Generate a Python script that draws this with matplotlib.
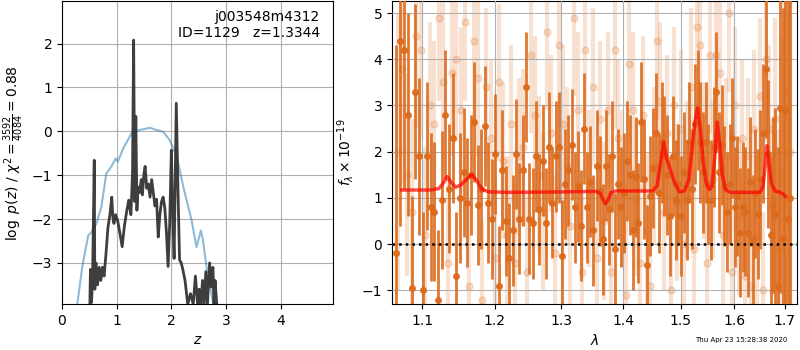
import numpy as np
import matplotlib
matplotlib.use('Agg')
import matplotlib.pyplot as plt

# p(z) panel: dark = log p(z), blue = prior / smooth curve
z_pz = [0.51, 0.52, 0.54, 0.56, 0.59, 0.60, 0.62, 0.65, 0.68, 0.71, 0.74, 0.77, 0.80,
        0.84, 0.88, 0.91, 0.93, 0.95, 0.98, 1.02, 1.06, 1.10, 1.14, 1.18, 1.22, 1.26,
        1.29, 1.31, 1.33, 1.35, 1.37, 1.39, 1.42, 1.45, 1.47, 1.50, 1.52, 1.55, 1.58,
        1.61, 1.64, 1.67, 1.70, 1.73, 1.76, 1.79, 1.82, 1.85, 1.88, 1.91, 1.94, 1.97,
        2.00, 2.02, 2.05, 2.09, 2.12, 2.15, 2.18, 2.21, 2.25, 2.30, 2.35, 2.40, 2.44,
        2.48, 2.51, 2.54, 2.57, 2.60, 2.63, 2.66, 2.70, 2.73, 2.76, 2.78, 2.80, 2.83]
lnp_pz = [-3.94, -3.15, -3.90, -3.30, -0.66, -3.60, -3.00, -3.50, -3.10, -3.40, -3.10,
          -3.30, -2.86, -2.20, -1.87, -1.50, -1.96, -2.10, -1.90, -2.05, -2.33, -2.63,
          -2.17, -1.85, -1.57, -1.90, -0.96, 2.08, -1.60, 0.34, -1.80, -1.27, -1.40,
          -1.10, -1.45, -0.96, -0.80, -1.30, -1.20, -1.50, -1.10, -1.40, -1.70, -1.55,
          -2.41, -1.90, -1.60, -1.50, -1.75, -2.30, -3.08, -2.10, -0.43, -1.60, -2.90,
          0.64, -1.27, -2.93, -3.00, -3.15, -3.40, -3.94, -3.70, -3.94, -3.30, -3.94,
          -3.60, -3.94, -3.40, -3.94, -3.20, -3.94, -3.00, -3.55, -3.10, -3.94, -3.40,
          -3.94]
z_prior = [0.28, 0.37, 0.48, 0.54, 0.63, 0.72, 0.81, 0.90, 0.98, 1.02, 1.12, 1.27, 1.42,
           1.61, 1.73, 1.85, 1.97, 2.10, 2.22, 2.37, 2.46, 2.54, 2.58, 2.66, 2.77]
lnp_prior = [-3.94, -3.09, -2.37, -2.30, -2.10, -1.72, -0.96, -0.81, -0.62, -0.69, -0.39,
             -0.05, 0.03, 0.08, 0.03, -0.01, -0.20, -0.58, -1.27, -2.03, -2.64, -2.26,
             -2.49, -3.25, -3.94]

# spectrum panel
wave_a = [1.066, 1.071, 1.076, 1.081, 1.086, 1.091, 1.096, 1.101, 1.106, 1.111, 1.116,
          1.121, 1.126, 1.131, 1.136, 1.141, 1.146, 1.151, 1.156, 1.161, 1.166, 1.171,
          1.176, 1.181, 1.186, 1.191, 1.196, 1.201, 1.206, 1.211, 1.216, 1.221, 1.226,
          1.231, 1.236, 1.241, 1.246, 1.251, 1.256, 1.261, 1.266, 1.271, 1.276, 1.281,
          1.286, 1.291, 1.296, 1.301, 1.306, 1.311, 1.316, 1.321, 1.326, 1.331, 1.336,
          1.341, 1.346, 1.351, 1.356, 1.361, 1.366, 1.371, 1.376, 1.381, 1.386, 1.391,
          1.396, 1.401, 1.406, 1.411, 1.416, 1.421, 1.426, 1.431, 1.436, 1.441, 1.446,
          1.451, 1.456, 1.461, 1.466, 1.471, 1.476, 1.481, 1.486, 1.491, 1.496, 1.501,
          1.506, 1.511, 1.516, 1.521, 1.526, 1.531, 1.536, 1.541, 1.546, 1.551, 1.556,
          1.561, 1.566, 1.571, 1.576, 1.581, 1.586, 1.591, 1.596, 1.601, 1.606, 1.611,
          1.616, 1.621, 1.626, 1.631, 1.636, 1.641, 1.646, 1.651, 1.656, 1.661, 1.666,
          1.671, 1.676, 1.681, 1.686, 1.691, 1.696, 1.701, 1.706, 1.711]
flux_a = [-0.2, 4.4, 4.2, 2.8, -0.95, 3.3, 1.9, -1.0, 1.9, 0.8, 0.7, -1.2, 0.95, 2.8,
          1.2, 2.3, -0.7, 1.0, 1.55, 0.9, 1.5, 2.65, 0.85, 1.2, 2.55, 0.9, 0.55, 1.95,
          -0.9, 1.6, 0.5, -0.3, 0.3, 1.95, 0.55, 1.6, 3.4, 0.55, 0.45, 1.9, 0.75, 1.8,
          0.45, 2.1, 0.9, 1.9, 2.1, -0.25, 1.3, 1.6, 2.15, 0.8, 1.25, 0.4, 2.5, 0.8,
          1.35, 0.3, 1.7, 1.15, 0.1, 1.7, 0.75, 1.9, -0.1, 1.3, 0.8, 1.1, 1.8, 1.5, 0.3,
          1.45, 0.45, 2.65, 1.4, -0.45, 1.05, 1.65, 2.4, 1.1, 2.2, 1.9, 1.5, 0.6, 1.9,
          0.95, 1.3, 0.6, 1.55, 0.95, 2.2, 1.2, 2.6, 2.9, 2.2, 1.55, 2.2, 1.3, 0.95, 2.1,
          3.3, 1.55, 2.15, 1.25, 0.7, 1.3, 2.3, 0.8, 1.05, 0.25, 0.8, 0.7, 0.25, 1.35,
          0.1, 1.1, 0.65, 1.4, 2.4, 3.8, 1.95, 0.2, 0.85, 0.65, -0.9, 2.95, 0.1, 2.9,
          0.55, 1.0]
err_a = [4.5, 4.0, 3.0, 2.2, 2.0, 1.9, 1.7, 1.7, 1.6, 1.6, 1.5, 1.5, 1.5, 1.4, 1.4, 1.4,
         1.4, 1.4, 1.4, 1.4, 1.3, 1.3, 1.3, 1.3, 1.3, 1.3, 1.3, 1.3, 1.3, 1.3, 1.2, 1.2,
         1.2, 1.2, 1.2, 1.2, 1.2, 1.2, 1.2, 1.2, 1.2, 1.2, 1.2, 1.2, 1.2, 1.2, 1.2, 1.2,
         1.2, 1.2, 1.2, 1.2, 1.2, 1.2, 1.2, 1.2, 1.2, 1.2, 1.2, 1.2, 1.2, 1.2, 1.2, 1.2,
         1.2, 1.2, 1.3, 1.3, 1.3, 1.3, 1.3, 1.3, 1.3, 1.3, 1.3, 1.3, 1.3, 1.3, 1.3, 1.3,
         1.3, 1.3, 1.3, 1.3, 1.3, 1.3, 1.3, 1.3, 1.3, 1.3, 1.3, 1.3, 1.3, 1.3, 1.3, 1.3,
         1.3, 1.3, 1.3, 1.3, 1.3, 1.3, 1.3, 1.3, 1.3, 1.3, 1.3, 1.3, 1.3, 1.4, 1.4, 1.4,
         1.4, 1.4, 1.4, 1.4, 1.4, 1.5, 1.5, 1.5, 1.6, 1.7, 1.9, 2.3, 3.0, 4.0, 5.0, 6.0,
         6.0, 7.0]

wave_b = [1.068, 1.074, 1.080, 1.086, 1.092, 1.098, 1.104, 1.110, 1.116, 1.122, 1.128,
          1.134, 1.140, 1.146, 1.152, 1.158, 1.164, 1.170, 1.176, 1.182, 1.188, 1.194,
          1.200, 1.206, 1.212, 1.218, 1.224, 1.230, 1.236, 1.242, 1.248, 1.254, 1.260,
          1.266, 1.272, 1.278, 1.284, 1.290, 1.296, 1.302, 1.308, 1.314, 1.320, 1.326,
          1.332, 1.338, 1.344, 1.350, 1.356, 1.362, 1.368, 1.374, 1.380, 1.386, 1.392,
          1.398, 1.404, 1.410, 1.416, 1.422, 1.428, 1.434, 1.440, 1.446, 1.452, 1.458,
          1.464, 1.470, 1.476, 1.482, 1.488, 1.494, 1.500, 1.506, 1.512, 1.518, 1.524,
          1.530, 1.536, 1.542, 1.548, 1.554, 1.560, 1.566, 1.572, 1.578, 1.584, 1.590,
          1.596, 1.602, 1.608, 1.614, 1.620, 1.626, 1.632, 1.638, 1.644, 1.650, 1.656,
          1.662, 1.668, 1.674, 1.680, 1.686, 1.692, 1.698, 1.704, 1.710]
flux_b = [2.0, 3.8, 1.5, 0.7, 4.5, 4.2, 0.2, 3.0, 2.6, 4.9, 3.5, -0.4, 3.7, 4.0, 2.9, 4.8,
          -0.9, 4.4, 3.6, -1.2, 3.4, 2.3, -0.3, 3.5, 1.8, 0.2, 2.6, -0.4, 1.9, 2.1, -0.6,
          4.1, 2.8, 1.5, 0.7, 4.6, 2.4, -0.2, 4.3, 2.6, 1.7, 0.4, 4.9, 2.9, -0.6, 4.2,
          1.2, 3.4, -0.3, 2.7, 0.5, 2.9, -0.6, 4.2, 2.3, 1.2, -1.1, 3.9, 2.9, 1.0, -0.4,
          2.8, 0.3, -0.9, 1.7, 4.4, 3.1, 0.7, 2.4, -1.0, 3.0, 0.9, 2.5, 0.0, 1.4, 3.4,
          -0.1, 4.7, 4.3, 1.8, -0.4, 4.1, 1.4, 4.1, 3.7, 0.2, 1.9, 5.0, -0.6, 3.0, 0.6,
          2.3, -0.7, 1.9, -0.9, 2.5, 0.2, 3.2, -1.0, 4.0, 2.5, 0.8, 2.7, -0.1, 1.5, 3.3,
          1.0, 2.0]
err_b = [3.0, 2.5, 2.2, 2.0, 2.0, 1.9, 1.9, 1.8, 1.8, 1.8, 1.8, 1.8, 1.8, 1.8, 1.8, 1.7,
         1.7, 1.7, 1.7, 1.7, 1.7, 1.7, 1.7, 1.7, 1.7, 1.7, 1.7, 1.7, 1.7, 1.7, 1.7, 1.7,
         1.7, 1.7, 1.7, 1.7, 1.7, 1.7, 1.7, 1.7, 1.7, 1.7, 1.7, 1.7, 1.7, 1.7, 1.7, 1.7,
         1.7, 1.7, 1.7, 1.7, 1.7, 1.7, 1.7, 1.7, 1.7, 1.7, 1.7, 1.7, 1.7, 1.7, 1.7, 1.7,
         1.7, 1.7, 1.7, 1.7, 1.7, 1.7, 1.7, 1.7, 1.7, 1.7, 1.7, 1.7, 1.7, 1.7, 1.7, 1.7,
         1.7, 1.7, 1.7, 1.7, 1.7, 1.7, 1.7, 1.7, 1.7, 1.7, 1.7, 1.7, 1.7, 1.7, 1.7, 1.7,
         1.7, 1.7, 1.7, 1.8, 1.8, 1.9, 2.2, 2.6, 3.0, 3.5, 4.0, 5.0]

# best-fit model
wave_m = [1.073, 1.110, 1.122, 1.128, 1.1335, 1.139, 1.145, 1.152, 1.160, 1.1672, 1.174,
          1.182, 1.192, 1.220, 1.300, 1.355, 1.362, 1.367, 1.3708, 1.375, 1.380, 1.388,
          1.420, 1.450, 1.458, 1.463, 1.4697, 1.475, 1.482, 1.490, 1.498, 1.507, 1.515,
          1.521, 1.526, 1.5309, 1.536, 1.541, 1.547, 1.553, 1.558, 1.563, 1.5673, 1.572,
          1.577, 1.583, 1.592, 1.620, 1.650, 1.656, 1.660, 1.6636, 1.668, 1.673, 1.680,
          1.690, 1.697, 1.701]
flux_m = [1.17, 1.17, 1.20, 1.32, 1.46, 1.33, 1.23, 1.28, 1.40, 1.51, 1.38, 1.18, 1.13,
          1.12, 1.13, 1.14, 1.10, 0.95, 0.87, 0.96, 1.12, 1.15, 1.15, 1.15, 1.25, 1.65,
          2.21, 1.85, 1.60, 1.30, 1.13, 1.15, 1.40, 2.10, 2.65, 2.95, 2.50, 1.80, 1.30,
          1.18, 1.25, 1.90, 2.64, 2.20, 1.50, 1.18, 1.12, 1.12, 1.12, 1.25, 1.65, 2.13,
          1.75, 1.30, 1.15, 1.12, 1.08, 1.03]

orange = '#dc6a1c'

fig = plt.figure(figsize=(8, 3.5), dpi=100)
ax1 = fig.add_axes([0.0775, 0.131, 0.339, 0.866])
ax2 = fig.add_axes([0.49, 0.131, 0.506, 0.866])

ax1.plot(z_prior, lnp_prior, color='tab:blue', alpha=0.5, lw=1.5)
ax1.plot(z_pz, lnp_pz, color='0.2', alpha=0.95, lw=2)
ax1.set_xlim(0, 4.96)
ax1.set_ylim(-3.94, 2.97)
ax1.set_xticks([0, 1, 2, 3, 4])
ax1.set_yticks([-3, -2, -1, 0, 1, 2])
ax1.grid()
ax1.set_xlabel(r'$z$')
ax1.set_ylabel(r'$\log\ p(z)$' + ' / ' + r'$\chi^2=\frac{3592}{4084}=0.88$')
ax1.text(0.95, 0.97, 'j003548m4312\nID=1129   z=1.3344', transform=ax1.transAxes,
         ha='right', va='top', fontsize=10)

ax2.errorbar(wave_b, flux_b, yerr=err_b, fmt='o', color=orange, alpha=0.2,
             ms=5, lw=3, zorder=2)
ax2.errorbar(wave_a, flux_a, yerr=err_a, fmt='o', color=orange, alpha=0.9,
             ms=4, lw=2, zorder=3)
ax2.plot(wave_m, flux_m, color='r', alpha=0.7, lw=2.5, zorder=5)
ax2.axhline(0, color='k', ls=':', lw=1.8, zorder=4)
ax2.set_xscale('log')
ax2.set_xlim(1.0607, 1.7246)
ax2.set_ylim(-1.3, 5.26)
ax2.set_xticks([1.1, 1.2, 1.3, 1.4, 1.5, 1.6, 1.7])
ax2.set_xticklabels(['1.1', '1.2', '1.3', '1.4', '1.5', '1.6', '1.7'])
ax2.xaxis.set_minor_locator(matplotlib.ticker.NullLocator())
ax2.set_yticks([-1, 0, 1, 2, 3, 4, 5])
ax2.grid()
ax2.set_axisbelow(False)
ax2.set_xlabel(r'$\lambda$')
ax2.set_ylabel(r'$f_\lambda\times10^{-19}$')

fig.text(0.984, 0.02, 'Thu Apr 23 15:28:38 2020', ha='right', va='bottom', fontsize=5)

fig.savefig('out.png', dpi=100)
